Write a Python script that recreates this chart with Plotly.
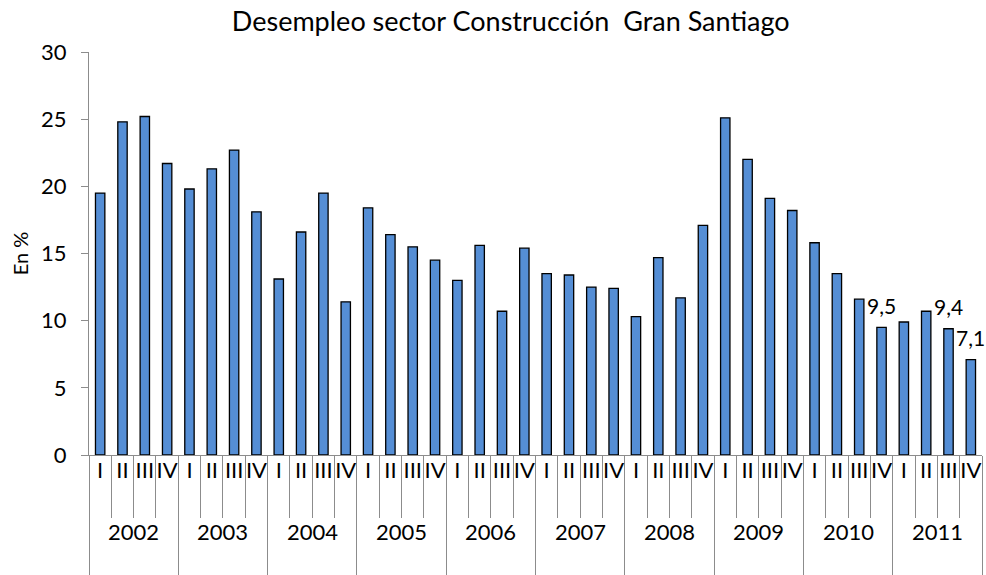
import plotly.graph_objects as go

years = ["2002", "2003", "2004", "2005", "2006", "2007", "2008", "2009", "2010", "2011"]
quarters = ["I", "II", "III", "IV"]

desempleo = [
    19.5, 24.8, 25.2, 21.7,
    19.8, 21.3, 22.7, 18.1,
    13.1, 16.6, 19.5, 11.4,
    18.4, 16.4, 15.5, 14.5,
    13.0, 15.6, 10.7, 15.4,
    13.5, 13.4, 12.5, 12.4,
    10.3, 14.7, 11.7, 17.1,
    25.1, 22.0, 19.1, 18.2,
    15.8, 13.5, 11.6, 9.5,
    9.9, 10.7, 9.4, 7.1,
]

# only the last few bars carry a value label
labelled = [35, 38, 39]

n = len(desempleo)
nq = len(quarters)
pos = list(range(n))
quarter_text = [quarters[i % nq] for i in pos]

font_family = "Lato, 'Open Sans', sans-serif"
axis_grey = "#8c8c8c"

fig = go.Figure()

fig.add_trace(
    go.Bar(
        x=pos,
        y=desempleo,
        marker=dict(color="#558ED5", line=dict(color="#000000", width=1.3)),
        showlegend=False,
        hovertemplate="%{y}<extra></extra>",
    )
)

# empty trace so the overlay axis with the quarter labels gets drawn
fig.add_trace(go.Scatter(x=[], y=[], xaxis="x2", showlegend=False))

fig.update_layout(
    width=986,
    height=575,
    title=dict(
        text="Desempleo sector Construcción  Gran Santiago",
        x=0.518,
        xanchor="center",
        y=0.962,
        yanchor="middle",
        font=dict(size=27, color="#000000", family=font_family),
    ),
    margin=dict(l=89, r=4, t=52, b=120, autoexpand=False),
    plot_bgcolor="#ffffff",
    paper_bgcolor="#ffffff",
    bargap=0.58,
    font=dict(family=font_family, size=22, color="#000000"),
    xaxis=dict(
        range=[-0.5, n - 0.5],
        automargin=False,
        showgrid=False,
        zeroline=False,
        showline=True,
        linecolor=axis_grey,
        linewidth=1.3,
        # long ticks between years, shorter ones between quarters
        tickmode="array",
        tickvals=[i * nq - 0.5 for i in range(len(years) + 1)],
        showticklabels=False,
        ticks="outside",
        ticklen=122,
        tickwidth=1.3,
        tickcolor=axis_grey,
        minor=dict(tick0=-0.5, dtick=1, ticks="outside", ticklen=62, tickwidth=1.3, tickcolor=axis_grey),
    ),
    xaxis2=dict(
        overlaying="x",
        anchor="y",
        side="bottom",
        automargin=False,
        range=[-0.5, n - 0.5],
        showgrid=False,
        zeroline=False,
        showline=False,
        tickmode="array",
        tickvals=pos,
        ticktext=quarter_text,
        tickangle=0,
        ticks="",
        tickfont=dict(size=22),
    ),
    yaxis=dict(
        range=[0, 30],
        dtick=5,
        automargin=False,
        showgrid=False,
        showline=True,
        linecolor=axis_grey,
        linewidth=1.3,
        ticks="outside",
        ticklen=7,
        tickwidth=1.3,
        tickcolor=axis_grey,
        ticklabelstandoff=10,
        zeroline=False,
        title=dict(text="En %", font=dict(size=20), standoff=6),
        tickfont=dict(size=22),
    ),
)

# value labels above the last bars
for i in labelled:
    fig.add_annotation(
        x=i,
        y=desempleo[i],
        xref="x",
        yref="y",
        text=f"{desempleo[i]:.1f}".replace(".", ","),
        showarrow=False,
        xanchor="center",
        yanchor="middle",
        yshift=22,
        font=dict(size=21, color="#000000"),
    )

# year labels under the quarter labels
for k, yr in enumerate(years):
    fig.add_annotation(
        x=k * nq + (nq - 1) / 2,
        y=-0.191,
        xref="x",
        yref="paper",
        text=yr,
        showarrow=False,
        xanchor="center",
        yanchor="middle",
        font=dict(size=22, color="#000000"),
    )

# the page body has a default 8px margin; drop it so the figure fills the window
fig.write_html(
    "out.html",
    config={"displayModeBar": False},
    post_script="document.body.style.margin='0px';",
)
